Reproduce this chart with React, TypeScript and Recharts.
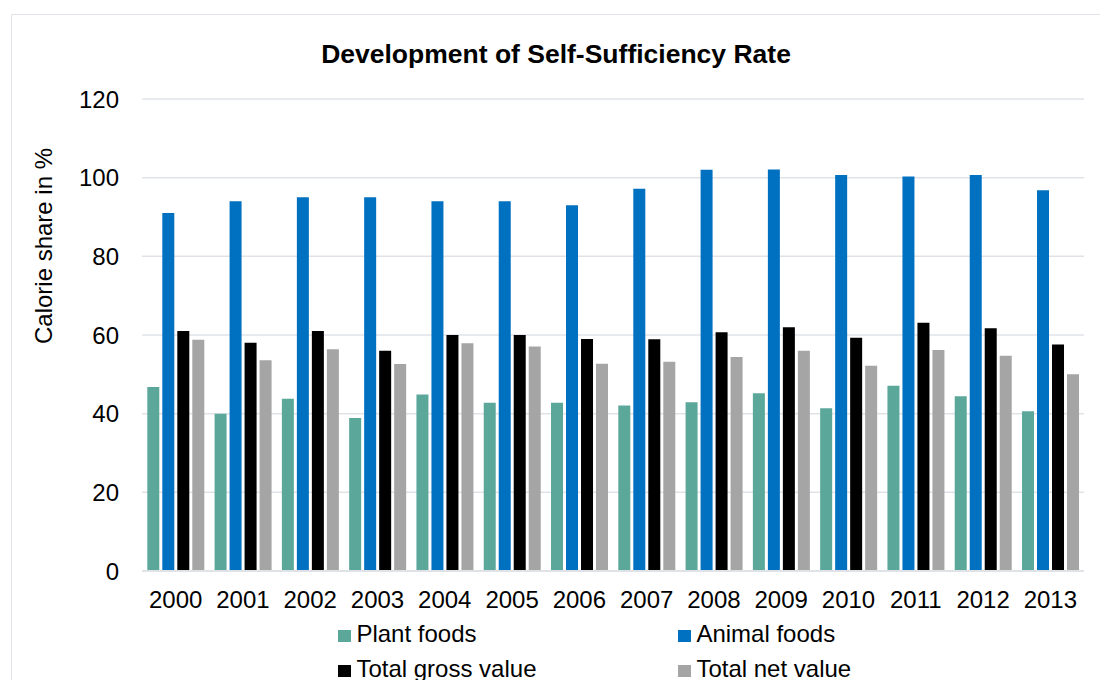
import { BarChart, Bar, XAxis, YAxis, CartesianGrid } from 'recharts';

const years = ['2000', '2001', '2002', '2003', '2004', '2005', '2006', '2007', '2008', '2009', '2010', '2011', '2012', '2013'];
const plantFoods = [46.8, 40, 43.8, 38.9, 44.9, 42.8, 42.8, 42.1, 42.9, 45.2, 41.4, 47.1, 44.4, 40.6];
const animalFoods = [91, 94, 95, 95, 94, 94, 93, 97.2, 102, 102.1, 100.7, 100.3, 100.7, 96.8];
const totalGross = [61, 58, 61, 56, 60, 60, 59, 58.9, 60.7, 62, 59.3, 63.1, 61.7, 57.6];
const totalNet = [58.8, 53.6, 56.4, 52.6, 57.9, 57.1, 52.7, 53.2, 54.4, 56.0, 52.2, 56.2, 54.7, 50.0];
const yTicks = [0, 20, 40, 60, 80, 100, 120];

const series = [
  { key: 'plant', name: 'Plant foods', color: '#5BA89A' },
  { key: 'animal', name: 'Animal foods', color: '#0070C0' },
  { key: 'gross', name: 'Total gross value', color: '#000000' },
  { key: 'net', name: 'Total net value', color: '#A5A5A5' },
];

const data = years.map((year, i) => ({
  year,
  plant: plantFoods[i],
  animal: animalFoods[i],
  gross: totalGross[i],
  net: totalNet[i],
}));

const FONT = '"Liberation Sans", Arial, sans-serif';
const GRID = '#dfe3e8';

// legend laid out 2 x 2 like the Excel original
const legendPos = [
  { left: 338, top: 622 },
  { left: 678, top: 622 },
  { left: 338, top: 657 },
  { left: 678, top: 657 },
];

export default function App() {
  return (
    <div
      style={{
        position: 'absolute',
        left: 0,
        top: 0,
        width: 1100,
        height: 680,
        overflow: 'hidden',
        background: '#fff',
        fontFamily: FONT,
        color: '#000',
      }}
    >
      <div
        style={{
          position: 'absolute',
          left: 11,
          top: 14,
          width: 1120,
          height: 720,
          borderLeft: `1.5px solid ${GRID}`,
          borderTop: `1.5px solid ${GRID}`,
        }}
      />
      <div
        style={{
          position: 'absolute',
          left: 256,
          top: 39,
          width: 600,
          textAlign: 'center',
          fontSize: 26.5,
          lineHeight: '30px',
          fontWeight: 'bold',
        }}
      >
        Development of Self-Sufficiency Rate
      </div>
      <div
        style={{
          position: 'absolute',
          left: -86,
          top: 234,
          width: 260,
          textAlign: 'center',
          fontSize: 24,
          lineHeight: '24px',
          transform: 'rotate(-90deg)',
        }}
      >
        Calorie share in %
      </div>

      <div style={{ position: 'absolute', left: 0, top: 0 }}>
        <BarChart
          width={1100}
          height={680}
          data={data}
          margin={{ top: 99, right: 16, bottom: 69, left: 0 }}
          barCategoryGap={5.3}
          barGap={3}
        >
          <CartesianGrid vertical={false} stroke={GRID} strokeWidth={1.5} />
          <XAxis
            dataKey="year"
            height={40}
            tickLine={false}
            tickSize={0}
            tickMargin={20}
            axisLine={{ stroke: GRID, strokeWidth: 2 }}
            tick={{ fontSize: 24, fill: '#000', fontFamily: FONT }}
            interval={0}
          />
          <YAxis
            width={142}
            domain={[0, 120]}
            ticks={yTicks}
            axisLine={false}
            tickLine={false}
            tickSize={0}
            tickMargin={23}
            tick={{ fontSize: 24, fill: '#000', fontFamily: FONT }}
          />
          {series.map((s) => (
            <Bar key={s.key} dataKey={s.key} name={s.name} fill={s.color} isAnimationActive={false} />
          ))}
        </BarChart>
      </div>

      {series.map((s, i) => (
        <div
          key={s.key}
          style={{
            position: 'absolute',
            left: legendPos[i].left,
            top: legendPos[i].top,
            height: 24,
            fontSize: 24,
            lineHeight: '24px',
            whiteSpace: 'nowrap',
          }}
        >
          <span
            style={{
              position: 'absolute',
              left: 0,
              top: 7.6,
              width: 12.7,
              height: 12.7,
              background: s.color,
            }}
          />
          <span style={{ position: 'absolute', left: 18.4, top: 0 }}>{s.name}</span>
        </div>
      ))}
    </div>
  );
}
